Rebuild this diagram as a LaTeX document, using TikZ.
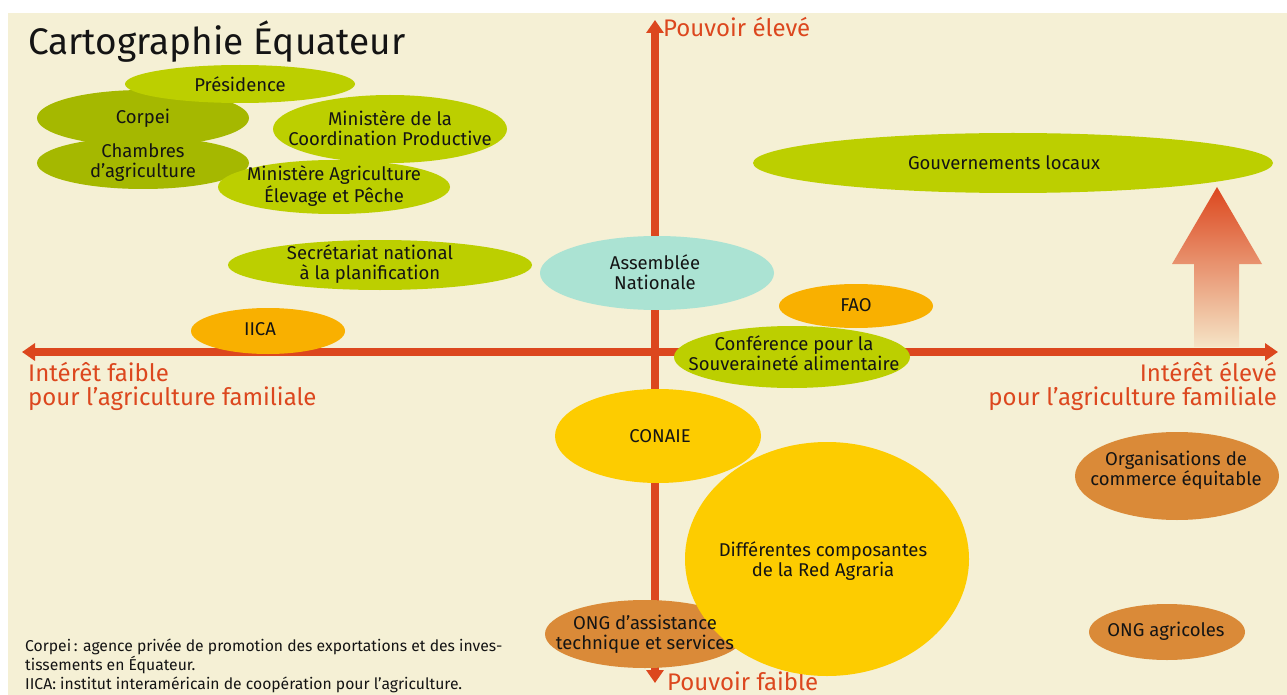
\documentclass[tikz,border=0pt]{standalone}
\usepackage{fontspec}
\setmainfont{Fira Sans}
\usepackage{tikz}
\usetikzlibrary{shapes.geometric,arrows.meta,positioning}
\definecolor{fond}{HTML}{F5F0D5}
\definecolor{axe}{HTML}{DC471E}
\definecolor{vertclair}{HTML}{BCCF00}
\definecolor{vertfonce}{HTML}{A5B800}
\definecolor{turquoise}{HTML}{ABE3D3}
\definecolor{orangeb}{HTML}{F9B000}
\definecolor{jaune}{HTML}{FDCC00}
\definecolor{brun}{HTML}{DA8A38}
\definecolor{encre}{HTML}{141414}
\definecolor{pale}{HTML}{F5E4C6}

\begin{document}
\begin{tikzpicture}[x=1pt,y=-1pt,
    etiq/.style={inner sep=0pt, align=center, text=encre,
                 font=\fontsize{18.5}{20}\selectfont},
    axlabel/.style={text=axe, inner sep=0pt, font=\fontsize{24}{24}\selectfont},
    pointe/.tip={Triangle[length=13pt,width=17pt]}]
  \useasboundingbox (0,0) rectangle (1287,695);
  \fill[fond] (8,13) rectangle (1287,695);

  % axes
  \coordinate (gauche) at (22,352);
  \coordinate (droite) at (1278,352);
  \coordinate (haut) at (655,20);
  \coordinate (bas) at (655,683);
  \shade[top color=axe, bottom color=pale]
    (1217,187) -- (1262,264) -- (1239,264) -- (1239,347)
    -- (1194,347) -- (1194,264) -- (1172,264) -- cycle;
  \draw[axe, line width=8pt, pointe-pointe] (gauche) -- (droite);
  \draw[axe, line width=8pt, pointe-pointe] (haut) -- (bas);

  \node[anchor=base west, inner sep=0pt, text=encre, font=\fontsize{37}{37}\selectfont] (titre) at (28,55) {Cartographie Équateur};
  \node[axlabel, anchor=base west] (phaut) at (663,37) {Pouvoir élevé};
  \node[axlabel, anchor=base west] (pfaible) at (667,690) {Pouvoir faible};
  \node[axlabel, anchor=north west, align=left] (ifaible) at (28,362) {Intérêt faible\\pour l’agriculture familiale};
  \node[axlabel, anchor=north east, align=right] (ieleve) at (1277,362) {Intérêt élevé\\pour l’agriculture familiale};

  % acteurs
  \fill[vertfonce] (143,118) ellipse [x radius=106pt, y radius=28pt];
  \node[etiq] (corpei) at (143,118) {Corpei};
  \fill[vertfonce] (143,163) ellipse [x radius=106pt, y radius=26pt];
  \node[etiq] (chambres) at (143,163) {Chambres\\d’agriculture};
  \fill[vertclair] (240,84) ellipse [x radius=115pt, y radius=19pt];
  \node[etiq] (pres) at (240,84) {Présidence};
  \fill[vertclair] (390,129) ellipse [x radius=117pt, y radius=34pt];
  \node[etiq] (mcp) at (390,128) {Ministère de la\\Coordination Productive};
  \fill[vertclair] (334,187) ellipse [x radius=116pt, y radius=27pt];
  \node[etiq] (maep) at (334,186) {Ministère Agriculture\\Élevage et Pêche};
  \fill[vertclair] (1013,163) ellipse [x radius=260pt, y radius=30pt];
  \node[etiq] (gouv) at (1004,163) {Gouvernements locaux};
  \fill[vertclair] (380,265) ellipse [x radius=152pt, y radius=25pt];
  \node[etiq] (snp) at (370,264) {Secrétariat national\\à la planification};
  \fill[turquoise] (657,273) ellipse [x radius=117pt, y radius=37pt];
  \node[etiq] (assemblee) at (655,272) {Assemblée\\Nationale};
  \fill[orangeb] (268,331) ellipse [x radius=77pt, y radius=23pt];
  \node[etiq] (iica) at (260,329) {IICA};
  \fill[orangeb] (856,306) ellipse [x radius=77pt, y radius=22pt];
  \node[etiq] (fao) at (856,305) {FAO};
  \fill[vertclair] (792,357) ellipse [x radius=118pt, y radius=31pt];
  \node[etiq] (csa) at (794,353) {Conférence pour la\\Souveraineté alimentaire};
  \fill[jaune] (658,436) ellipse [x radius=103pt, y radius=47pt];
  \node[etiq] (conaie) at (660,436) {CONAIE};
  \fill[brun] (645,634) ellipse [x radius=100pt, y radius=34pt];
  \fill[jaune] (827,559) ellipse [x radius=142pt, y radius=117pt];
  \node[etiq] (red) at (823,561) {Différentes composantes\\de la Red Agraria};
  \node[etiq] (ongat) at (645,634) {ONG d’assistance\\technique et services};
  \fill[brun] (1177,476) ellipse [x radius=102pt, y radius=44pt];
  \node[etiq] (oce) at (1176,470) {Organisations de\\commerce équitable};
  \fill[brun] (1167,632) ellipse [x radius=78pt, y radius=28pt];
  \node[etiq] (onga) at (1166,631) {ONG agricoles};

  \node[anchor=north west, inner sep=0pt, align=left, text=encre, font=\fontsize{15.7}{19}\selectfont] (notes) at (25,639)
    {Corpei\,: agence privée de promotion des exportations et des inves-\\tissements en Équateur.\\IICA: institut interaméricain de coopération pour l’agriculture.};
\end{tikzpicture}
\end{document}
